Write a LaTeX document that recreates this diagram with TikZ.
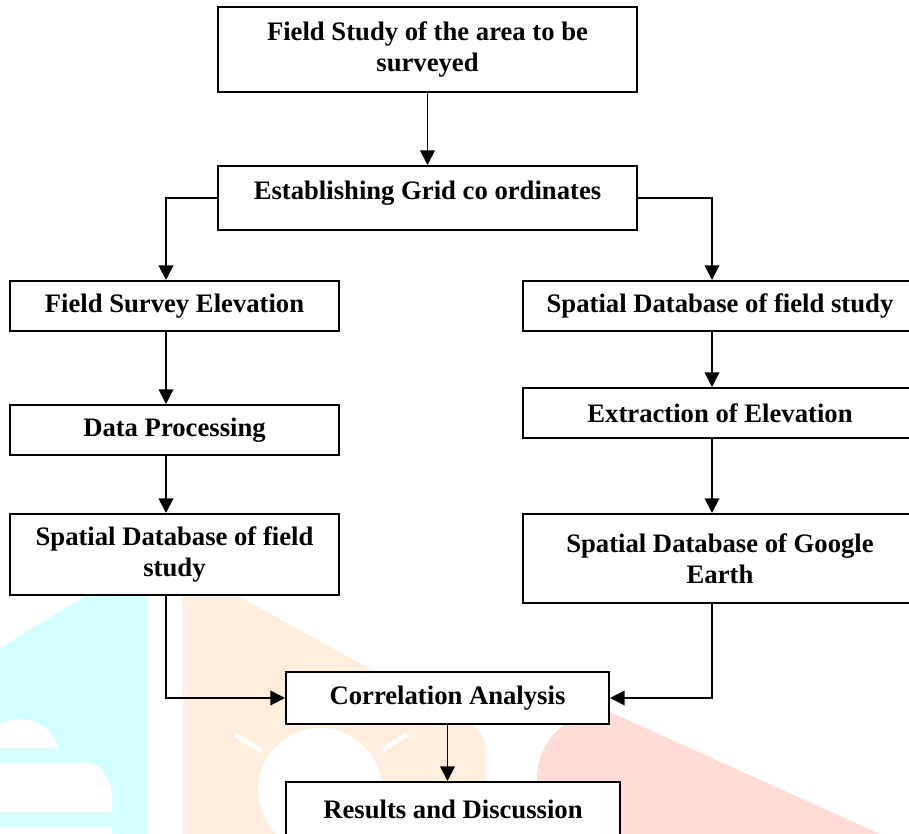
\documentclass[tikz,border=0pt]{standalone}
\usepackage{fontspec}
\setmainfont{Liberation Serif}
\usepackage{tikz}
\usetikzlibrary{arrows.meta, positioning, calc}
\definecolor{wmcyan}{HTML}{D2FFFF}
\definecolor{wmorange}{HTML}{FFEEDC}
\definecolor{wmred}{HTML}{FFDCD6}
\newcommand{\px}{0.75pt}

\begin{document}
\begin{tikzpicture}[
    x=\px, y=-\px,
    flowbox/.style={draw, fill=white, line width=1.5pt, align=center, inner sep=0pt,
      font={\fontsize{20}{23}\selectfont\bfseries}},
    flowarrow/.style={line width=1.4pt, -{Triangle[length=11pt, width=11pt]}},
]
  \useasboundingbox (0,0) rectangle (909,834);
  \clip (0,0) rectangle (909,834);

  % watermark in the background
  \fill[wmcyan] (148,596) -- (85,596) -- (0,648) -- (0,834) -- (148,834) -- cycle;
  \fill[white] (0,748) -- (0,724) .. controls (25,712) and (50,722) .. (58,748) -- cycle;
  \fill[white] (0,763) -- (90,763) .. controls (106,768) and (112,785) .. (112,800) -- (112,812) -- (0,812) -- cycle;
  \fill[white] (0,827) rectangle (112,834);
  \fill[wmorange] (183,597) -- (240,597) -- (462,720) .. controls (480,728) and (485,736) .. (485,750) -- (485,834) -- (183,834) -- cycle;
  \fill[white] (320,790) circle (62);
  \draw[white, line width=3.5pt] (235,735) -- (262,751) (381,751) -- (407,734);
  \fill[wmred] (537,834) -- (537,775) .. controls (540,735) and (570,712) .. (610,712) -- (880,834) -- cycle;

  % columns of the two branches
  \coordinate (lx) at (166,0);
  \coordinate (rx) at (712,0);

  \node[flowbox, minimum width=419*\px, minimum height=85*\px] (field) at (427.5,49.5)
    {Field Study of the area to be\\ surveyed};
  \node[flowbox, minimum width=419*\px, minimum height=64*\px, text depth=12pt] (grid) at (427.5,198)
    {Establishing Grid co ordinates};

  \node[flowbox, minimum width=329*\px, minimum height=50*\px] (survey) at (174.5,306)
    {Field Survey Elevation};
  \node[flowbox, minimum width=329*\px, minimum height=50*\px] (process) at (174.5,430)
    {Data Processing};
  \node[flowbox, minimum width=329*\px, minimum height=81*\px] (dbfield) at (174.5,554.5)
    {Spatial Database of field\\ study};

  \node[flowbox, minimum width=394*\px, minimum height=50*\px] (dbstudy) at (720,306)
    {Spatial Database of field study};
  \node[flowbox, minimum width=394*\px, minimum height=50*\px] (extract) at (720,413)
    {Extraction of Elevation};
  \node[flowbox, minimum width=394*\px, minimum height=89*\px] (dbgoogle) at (720,558.5)
    {Spatial Database of Google\\ Earth};

  \node[flowbox, minimum width=323*\px, minimum height=52*\px] (corr) at (447.5,698)
    {Correlation Analysis};
  \node[flowbox, minimum width=334*\px, minimum height=54*\px] (results) at (453,809)
    {Results and Discussion};

  \draw[flowarrow] (field) -- (grid);
  \draw[flowarrow] (grid.west) -| (lx |- survey.north);
  \draw[flowarrow] (grid.east) -| (rx |- dbstudy.north);
  \draw[flowarrow] (lx |- survey.south) -- (lx |- process.north);
  \draw[flowarrow] (lx |- process.south) -- (lx |- dbfield.north);
  \draw[flowarrow] (rx |- dbstudy.south) -- (rx |- extract.north);
  \draw[flowarrow] (rx |- extract.south) -- (rx |- dbgoogle.north);
  \draw[flowarrow] (lx |- dbfield.south) |- (corr.west);
  \draw[flowarrow] (rx |- dbgoogle.south) |- (corr.east);
  \draw[flowarrow] (corr.south) -- (corr.south |- results.north);
\end{tikzpicture}
\end{document}
